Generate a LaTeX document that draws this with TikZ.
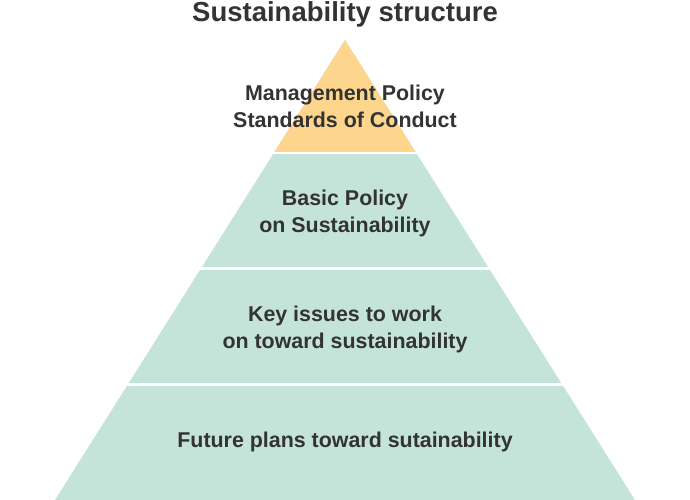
\documentclass[tikz,border=0pt]{standalone}
\usepackage{fontspec}
\setmainfont{Liberation Sans}
\usetikzlibrary{calc}
\definecolor{apexyellow}{HTML}{FDD58D}
\definecolor{layergreen}{HTML}{C5E4D9}
\definecolor{labelgray}{HTML}{333333}
\tikzset{
  layerlabel/.style={align=center, text=labelgray, font=\fontsize{21.4}{27}\selectfont\bfseries},
  titlelabel/.style={text=labelgray, font=\fontsize{27.5}{32}\selectfont\bfseries},
  gapline/.style={white, line width=2.5pt}
}
\begin{document}
\begin{tikzpicture}[x=1pt,y=1pt]
\useasboundingbox (0,0) rectangle (690,-500);

% Corners of the pyramid
\coordinate (apex) at (345,-40);
\coordinate (baseL) at (55,-500);
\coordinate (baseR) at (635,-500);

% Split points on both sides
\coordinate (l1) at ($(apex)!0.2457!(baseL)$);
\coordinate (r1) at ($(apex)!0.2457!(baseR)$);
\coordinate (l2) at ($(apex)!0.4967!(baseL)$);
\coordinate (r2) at ($(apex)!0.4967!(baseR)$);
\coordinate (l3) at ($(apex)!0.7489!(baseL)$);
\coordinate (r3) at ($(apex)!0.7489!(baseR)$);

% Draw the layers
\fill[layergreen] (apex) -- (baseL) -- (baseR) -- cycle;
\fill[apexyellow] (apex) -- (l1) -- (r1) -- cycle;
\draw[gapline] ($(l1)+(-6,0)$) -- ($(r1)+(6,0)$);
\draw[gapline] ($(l2)+(-6,0)$) -- ($(r2)+(6,0)$);
\draw[gapline] ($(l3)+(-6,0)$) -- ($(r3)+(6,0)$);

% Insert the texts
\node[titlelabel] (title) at (345,-14) {Sustainability structure};
\node[layerlabel] (policy) at (345,-106) {Management Policy\\Standards of Conduct};
\node[layerlabel] (basic) at (345,-213) {Basic Policy\\on Sustainability};
\node[layerlabel] (issues) at (345,-329) {Key issues to work\\on toward sustainability};
\node[layerlabel] (plans) at (345,-441.5) {Future plans toward sutainability};
\end{tikzpicture}
\end{document}
